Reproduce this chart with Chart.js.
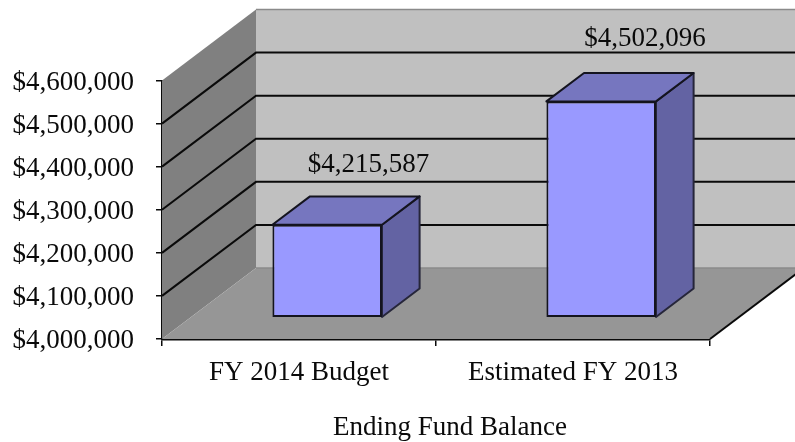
<!DOCTYPE html>
<html>
<head>
<meta charset="utf-8">
<style>html,body{margin:0;padding:0;background:#fff}canvas{display:block}</style>
<script src="https://cdn.jsdelivr.net/npm/chart.js@4"></script>
</head>
<body>
<canvas id="c" width="795" height="442"></canvas>
<script>
const categories = ["FY 2014 Budget", "Estimated FY 2013"];
const endingFundBalance = [4215587, 4502096];
const valueLabels = ["$4,215,587", "$4,502,096"];
const axisTitle = "Ending Fund Balance";
const yMin = 4000000, yMax = 4600000, yStep = 100000;

const DEPTH_X = 94, DEPTH_Y = 71;
const BAR_NEAR = 0.3, BAR_SPAN = 0.4;
const FONT = "'Liberation Serif','Times New Roman',serif";
const INK = "#0a0a0a";
const LABEL_NUDGE = [[-1.5, 3], [1, 0]];

function poly(ctx, pts, fill, stroke, lw) {
  ctx.beginPath();
  pts.forEach((p, i) => i ? ctx.lineTo(p[0], p[1]) : ctx.moveTo(p[0], p[1]));
  ctx.closePath();
  if (fill) { ctx.fillStyle = fill; ctx.fill(); }
  if (stroke) { ctx.strokeStyle = stroke; ctx.lineWidth = lw; ctx.lineJoin = "round"; ctx.stroke(); }
}

function shiftDraw(scale, method, dx, dy) {
  const flag = "_shift_" + method;
  if (scale[flag]) return;
  scale[flag] = true;
  const base = scale[method];
  scale[method] = function () {
    const c = this.ctx;
    c.save(); c.translate(dx, dy); base.apply(this, arguments); c.restore();
  };
}

const scene3d = {
  id: "scene3d",
  beforeDatasetsDraw(chart) {
    const { ctx, chartArea: a, scales: { y } } = chart;
    ctx.save();
    poly(ctx, [[a.left + DEPTH_X, a.top - DEPTH_Y], [a.right + DEPTH_X, a.top - DEPTH_Y], [a.right + DEPTH_X, a.bottom - DEPTH_Y], [a.left + DEPTH_X, a.bottom - DEPTH_Y]], "#C0C0C0");
    poly(ctx, [[a.left, a.top], [a.left + DEPTH_X, a.top - DEPTH_Y], [a.left + DEPTH_X, a.bottom - DEPTH_Y], [a.left, a.bottom]], "#808080");
    poly(ctx, [[a.left, a.bottom], [a.left + DEPTH_X, a.bottom - DEPTH_Y], [a.right + DEPTH_X, a.bottom - DEPTH_Y], [a.right, a.bottom]], "#969696");
    ctx.strokeStyle = "#8a8a8a"; ctx.lineWidth = 1.5;
    ctx.beginPath();
    ctx.moveTo(a.left + DEPTH_X, a.top - DEPTH_Y); ctx.lineTo(a.right + DEPTH_X, a.top - DEPTH_Y);
    ctx.moveTo(a.left + DEPTH_X, a.bottom - DEPTH_Y); ctx.lineTo(a.right + DEPTH_X, a.bottom - DEPTH_Y);
    ctx.stroke();
    ctx.strokeStyle = INK; ctx.lineWidth = 2;
    y.ticks.forEach(t => {
      if (t.value <= yMin || t.value >= yMax) return;
      const py = y.getPixelForValue(t.value);
      ctx.beginPath();
      ctx.moveTo(a.left, py);
      ctx.lineTo(a.left + DEPTH_X, py - DEPTH_Y);
      ctx.lineTo(a.right + DEPTH_X, py - DEPTH_Y);
      ctx.stroke();
    });
    ctx.beginPath();
    ctx.moveTo(a.right, a.bottom);
    ctx.lineTo(a.right + DEPTH_X, a.bottom - DEPTH_Y);
    ctx.stroke();
    const nx = DEPTH_X * BAR_NEAR, ny = DEPTH_Y * BAR_NEAR;
    const sx = DEPTH_X * BAR_SPAN, sy = DEPTH_Y * BAR_SPAN;
    chart.getDatasetMeta(0).data.forEach(b => {
      const l = b.x - b.width / 2 + nx, r = b.x + b.width / 2 + nx;
      const t = b.y - ny, g = b.base - ny;
      poly(ctx, [[r, t], [r + sx, t - sy], [r + sx, g - sy], [r, g]], "#6363A3", "#26263a", 2);
      poly(ctx, [[l, t], [l + sx, t - sy], [r + sx, t - sy], [r, t]], "#7676BF", "#14141f", 2);
    });
    ctx.translate(nx, -ny);
  },
  afterDatasetsDraw(chart) {
    const { ctx } = chart;
    ctx.restore();
    ctx.save();
    ctx.fillStyle = INK;
    ctx.font = "27px " + FONT;
    ctx.textAlign = "center";
    ctx.textBaseline = "middle";
    chart.getDatasetMeta(0).data.forEach((b, i) => {
      ctx.fillText(valueLabels[i], b.x + 71 + LABEL_NUDGE[i][0], b.y - 84 + LABEL_NUDGE[i][1]);
    });
    ctx.restore();
  }
};

new Chart(document.getElementById("c"), {
  type: "bar",
  data: {
    labels: categories,
    datasets: [{
      label: axisTitle,
      data: endingFundBalance,
      base: yMin,
      backgroundColor: "#9999FF",
      borderColor: "#14141f",
      borderWidth: 2,
      borderSkipped: false,
      barPercentage: 0.4,
      categoryPercentage: 1,
      clip: false
    }]
  },
  options: {
    responsive: false,
    animation: false,
    devicePixelRatio: 1,
    layout: { padding: { top: 80.5, right: 85, left: 0, bottom: 0 } },
    plugins: { legend: { display: false }, tooltip: { enabled: false }, title: { display: false } },
    scales: {
      y: {
        min: yMin, max: yMax,
        afterFit(s) { s.width = 162; shiftDraw(s, "drawLabels", 0, 2); },
        ticks: {
          stepSize: yStep,
          padding: 22,
          color: INK,
          font: { family: FONT, size: 27 },
          callback: v => "$" + Number(v).toLocaleString("en-US")
        },
        grid: { drawOnChartArea: false, drawTicks: true, tickLength: 6, color: INK, lineWidth: 1.5 },
        border: { display: true, color: INK, width: 2 }
      },
      x: {
        afterFit(s) { s.height = 103; shiftDraw(s, "drawTitle", 14, 3); },
        ticks: { padding: 11, color: INK, maxRotation: 0, font: { family: FONT, size: 27 } },
        grid: { drawOnChartArea: false, drawTicks: true, tickLength: 7, color: INK, lineWidth: 1.5 },
        border: { display: true, color: INK, width: 2.5 },
        title: { display: true, text: axisTitle, color: INK, font: { family: FONT, size: 27 }, padding: { top: 0, bottom: 1 } }
      }
    }
  },
  plugins: [scene3d]
});
</script>
</body>
</html>
